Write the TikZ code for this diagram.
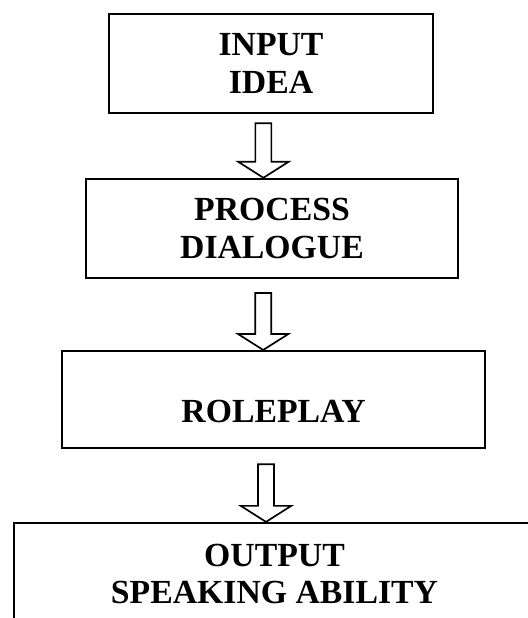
\documentclass[tikz,border=0pt]{standalone}
\usepackage{fontspec}
\setmainfont{Liberation Serif}
\usetikzlibrary{calc}
% hollow block arrow from a start point #1 down to a tip #2
\newcommand{\hollowarrow}[2]{%
  \draw[hollow] let \p1=(#1), \p2=(#2) in
    (\x1-0.2cm,\y1) -- (\x1+0.2cm,\y1) -- (\x1+0.2cm,\y2+0.4cm) -- (\x1+0.63cm,\y2+0.4cm)
    -- (\x1,\y2) -- (\x1-0.63cm,\y2+0.4cm) -- (\x1-0.2cm,\y2+0.4cm) -- cycle;}

\begin{document}
\begin{tikzpicture}[font=\fontsize{24}{27}\selectfont\bfseries,
        stage/.style={draw, line width=1.6pt, align=center, inner sep=0pt},
        hollow/.style={draw, line width=1.2pt, line join=miter}]
        \useasboundingbox (0,0) rectangle (13.2,-15.45);
        \clip (0,0) rectangle (13.2,-15.45);
        \node[stage, minimum width=8.1cm,  minimum height=2.475cm] (input)    at (6.775,-1.59)  {INPUT\\IDEA};
        \node[stage, minimum width=9.3cm,  minimum height=2.475cm] (process)  at (6.8,-5.71)    {PROCESS\\DIALOGUE};
        \node[stage, minimum width=10.575cm, minimum height=2.425cm,
              text height=1.15cm, text depth=0pt] (roleplay) at (6.84,-9.99) {ROLEPLAY};
        \node[stage, minimum width=13.025cm, minimum height=2.55cm] (output)  at (6.8625,-14.35) {OUTPUT\\SPEAKING ABILITY};
        \coordinate (a1) at ($(input.south)+(-0.19,-0.225)$);
        \coordinate (a2) at ($(process.south)+(-0.22,-0.35)$);
        \coordinate (a3) at ($(roleplay.south)+(-0.19,-0.375)$);
        \hollowarrow{a1}{a1 |- process.north}
        \hollowarrow{a2}{a2 |- roleplay.north}
        \hollowarrow{a3}{a3 |- output.north}
    \end{tikzpicture}
\end{document}
